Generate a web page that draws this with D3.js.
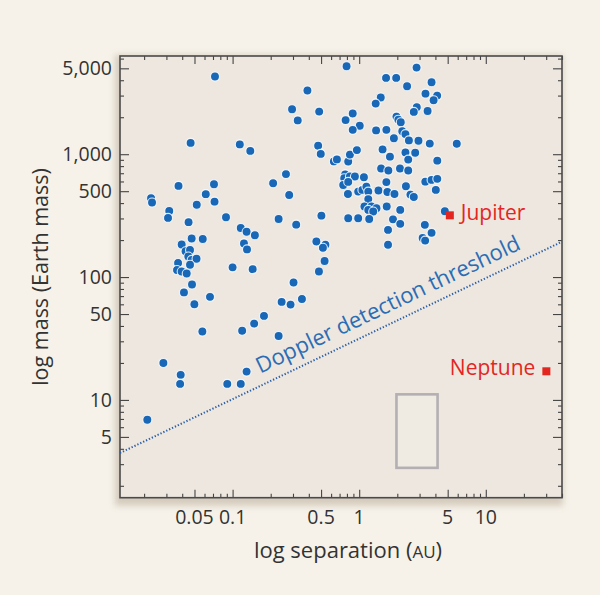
<!DOCTYPE html>
<html>
<head>
<meta charset="utf-8">
<script src="https://cdn.jsdelivr.net/npm/d3@7"></script>
<style>
  html, body { margin: 0; padding: 0; background: #f6f2e9; }
  svg { display: block; }
  text { font-family: "Open Sans", "Noto Sans", sans-serif; }
</style>
</head>
<body>
<div id="chart"></div>
<script>
// ---- data ----
const sepAU = [
  0.0212,0.0284,0.0389,0.0385,0.0908,0.116,0.129,0.0227,0.0231,0.0316,
  0.0309,0.0374,0.0466,0.0713,0.0614,0.0720,0.0521,0.0449,0.0887,0.0475,
  0.0581,0.0396,0.0425,0.0461,0.0447,0.0475,0.0519,0.0461,0.0371,0.0364,
  0.0396,0.0434,0.0478,0.0413,0.0663,0.0499,0.100,0.144,0.123,0.130,
  0.116,0.129,0.150,0.114,0.138,0.0726,0.0577,0.119,0.148,0.177,
  0.231,0.244,0.287,0.353,0.303,0.231,0.318,0.503,0.459,0.541,
  0.517,0.533,0.481,0.209,0.264,0.280,0.390,0.295,0.327,0.483,
  0.474,0.497,0.631,0.667,0.795,1.63,1.96,2.84,2.39,3.73,
  3.34,4.13,3.87,1.48,1.35,2.85,2.70,3.47,0.889,0.781,
  1.01,0.889,1.97,2.04,2.13,1.36,1.64,2.19,2.32,2.47,
  1.88,2.94,3.61,5.90,0.819,0.845,0.959,1.53,1.75,2.32,
  2.77,2.44,4.14,1.49,1.70,2.10,2.44,0.775,0.762,0.845,
  0.925,0.748,0.819,1.09,1.64,3.33,3.73,4.14,4.03,0.815,
  0.982,1.06,1.14,1.18,1.42,1.67,1.90,2.34,2.54,2.70,
  1.18,1.10,1.25,1.37,1.18,1.29,1.65,2.11,0.819,0.982,
  1.20,1.85,2.11,1.69,4.75,3.30,3.73,3.17,3.32,1.69
];
const massEarth = [
  6.9,20,16,13.5,13.5,13.5,17,438,404,345,
  303,552,1236,570,473,411,388,280,307,206,
  204,184,162,166,147,138,141,126,130,114,
  111,107,87,75,69,60,120,116,188,168,
  251,234,219,1202,1064,4285,36,36.6,41.8,48.3,
  33.1,62.8,59.7,66.2,90.2,297,267,316,195,183,
  173,135,111,581,689,465,3296,2323,1884,2223,
  1173,1006,874,907,5199,4180,4180,5070,3577,3855,
  3112,2999,2752,2897,2582,2414,2209,2249,2147,1895,
  1706,1578,2023,1910,1821,1563,1578,1539,1458,1295,
  1349,1288,1220,1218,871,993,1080,1094,955,1034,
  1028,904,886,764,736,764,736,685,638,659,
  658,562,595,650,593,598,618,630,512,475,
  496,512,545,496,507,493,475,549,469,449,
  431,375,375,363,352,342,375,352,301,301,
  297,295,271,242,343,266,229,208,198,183
];
const planetNames = ["Jupiter", "Neptune"];
const planetSep = [5.2, 30.1];
const planetMass = [318, 17.1];
const thresholdSep = [0.0129, 40];
const thresholdMass = [3.7, 194];
const boxSep = [1.97, 4.16];
const boxMass = [2.8, 11.1];
const xTickLabels = [0.05, 0.1, 0.5, 1, 5, 10];
const yTickLabels = [5, 10, 50, 100, 500, 1000, 5000];

// ---- layout ----
const W = 600, H = 595;
const L = 120, R = 562, T = 56, B = 497.7;
const blue = "#1968b8", red = "#e3261f", ink = "#333333";

const svg = d3.select("#chart").append("svg").attr("width", W).attr("height", H);

const x = d3.scaleLog().domain([0.0129, 40]).range([L, R]);
const y = d3.scaleLog().domain([1.6, 6300]).range([B, T]);

const defs = svg.append("defs");
const f = defs.append("filter").attr("id", "sh").attr("x", "-10%").attr("y", "-10%").attr("width", "120%").attr("height", "120%");
f.append("feGaussianBlur").attr("stdDeviation", 3);

// shadow + plot background
svg.append("rect").attr("x", L - 5).attr("y", T - 1).attr("width", R - L + 6).attr("height", B - T + 9)
  .attr("fill", "rgba(150,130,105,0.35)").attr("filter", "url(#sh)");
svg.append("rect").attr("x", L).attr("y", T).attr("width", R - L).attr("height", B - T)
  .attr("fill", "#ede7df");

// ticks via axes (inward)
const fmt = d3.format(",");
const xMinor = x.ticks().filter(v => !xTickLabels.includes(v));
const yMinor = y.ticks().filter(v => !yTickLabels.includes(v));
function styleAxis(g) {
  g.select(".domain").remove();
  g.selectAll(".tick line").attr("stroke", "#444").attr("stroke-width", 1.1);
  g.selectAll(".tick text").remove();
}
[[d3.axisBottom, B, xMinor, 4], [d3.axisBottom, B, xTickLabels, 8],
 [d3.axisTop, T, xMinor, 4], [d3.axisTop, T, xTickLabels, 8]].forEach(([ax, pos, vals, len]) => {
  svg.append("g").attr("transform", `translate(0,${pos})`)
    .call(ax(x).tickValues(vals).tickSize(-len)).call(styleAxis);
});
[[d3.axisLeft, L, yMinor, 4], [d3.axisLeft, L, yTickLabels, 9],
 [d3.axisRight, R, yMinor, 4], [d3.axisRight, R, yTickLabels, 9]].forEach(([ax, pos, vals, len]) => {
  svg.append("g").attr("transform", `translate(${pos},0)`)
    .call(ax(y).tickValues(vals).tickSize(-len)).call(styleAxis);
});

// frame
svg.append("rect").attr("x", L).attr("y", T).attr("width", R - L).attr("height", B - T)
  .attr("fill", "none").attr("stroke", "#4a4a4a").attr("stroke-width", 1.6);

// tick labels
svg.append("g").selectAll("text").data(xTickLabels).join("text")
  .attr("x", d => x(d)).attr("y", 524).attr("text-anchor", "middle")
  .attr("font-size", 19.5).attr("fill", ink).text(d => String(d));
svg.append("g").selectAll("text").data(yTickLabels).join("text")
  .attr("x", 112).attr("y", d => y(d)).attr("dy", "0.36em").attr("text-anchor", "end")
  .attr("font-size", 19.5).attr("fill", ink).text(d => fmt(d));

// axis titles
const xt = svg.append("text").attr("x", 348).attr("y", 558).attr("text-anchor", "middle")
  .attr("font-size", 22).attr("fill", ink);
xt.append("tspan").text("log separation (");
xt.append("tspan").attr("font-size", 17).text("AU");
xt.append("tspan").text(")");
svg.append("text").attr("transform", "translate(48,277) rotate(-90)").attr("text-anchor", "middle")
  .attr("font-size", 21.5).attr("fill", ink).text("log mass (Earth mass)");

// grey box
svg.append("rect")
  .attr("x", x(boxSep[0])).attr("y", y(boxMass[1]))
  .attr("width", x(boxSep[1]) - x(boxSep[0])).attr("height", y(boxMass[0]) - y(boxMass[1]))
  .attr("fill", "rgba(255,255,255,0.12)").attr("stroke", "#b3afb3").attr("stroke-width", 2.6);

// threshold line
const tp = thresholdSep.map((a, i) => [x(a), y(thresholdMass[i])]);
svg.append("line").attr("x1", tp[0][0]).attr("y1", tp[0][1]).attr("x2", tp[1][0]).attr("y2", tp[1][1])
  .attr("stroke", "#2a5ea8").attr("stroke-width", 2).attr("stroke-dasharray", "1.3 1.9");
const ang = Math.atan2(tp[1][1] - tp[0][1], tp[1][0] - tp[0][0]) * 180 / Math.PI;
const lx = 265, ly = tp[0][1] + (lx - tp[0][0]) * (tp[1][1] - tp[0][1]) / (tp[1][0] - tp[0][0]);
svg.append("text").attr("transform", `translate(${lx},${ly}) rotate(${ang})`)
  .attr("x", 0).attr("y", -11).attr("font-size", 22).attr("fill", "#2a6db5")
  .text("Doppler detection threshold");

// exoplanet dots
const pts = sepAU.map((a, i) => [a, massEarth[i]]);
svg.append("g").selectAll("circle").data(pts).join("circle")
  .attr("cx", d => x(d[0])).attr("cy", d => y(d[1])).attr("r", 4.5)
  .attr("fill", blue).attr("stroke", "rgba(255,255,255,0.85)").attr("stroke-width", 1.1);

// solar system planets
planetNames.forEach((n, i) => {
  const px = x(planetSep[i]), py = y(planetMass[i]);
  svg.append("rect").attr("x", px - 4).attr("y", py - 4).attr("width", 8).attr("height", 8).attr("fill", red);
  svg.append("text").attr("x", i === 0 ? px + 11 : px - 11).attr("y", py + (i === 0 ? 5 : 4))
    .attr("text-anchor", i === 0 ? "start" : "end").attr("font-size", 21).attr("fill", red).text(n);
});
</script>
</body>
</html>
